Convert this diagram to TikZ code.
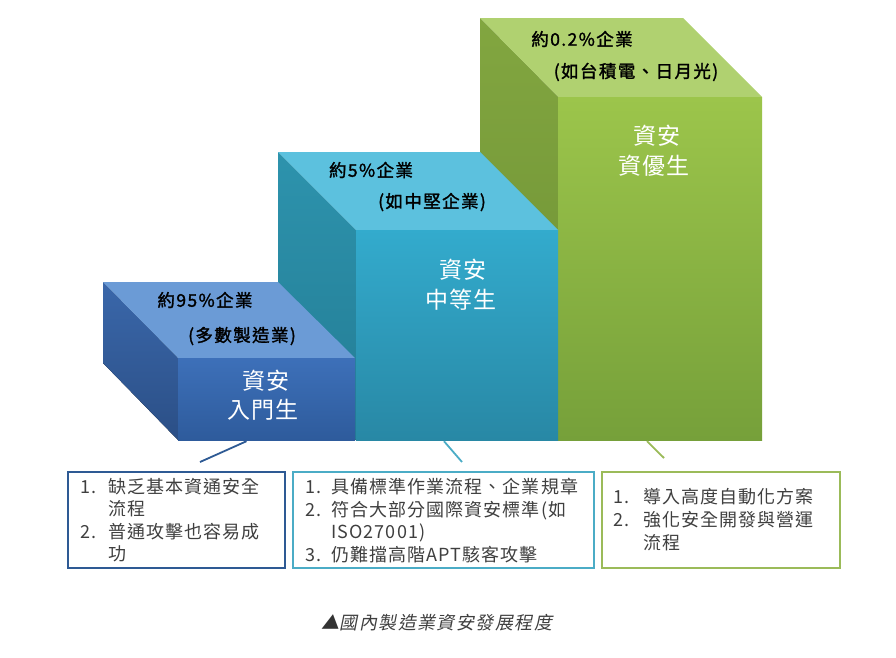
\documentclass[tikz,border=0pt]{standalone}
\usepackage{fontspec}
\setmainfont{Noto Sans CJK TC}
\newfontfamily\cjkb[FakeBold=1.6,LetterSpace=8]{Noto Sans CJK TC}
\newfontfamily\cjkl[LetterSpace=6]{Noto Sans CJK TC}
\newfontfamily\cjkf[LetterSpace=4]{Noto Sans CJK TC}
\newfontfamily\capfont[FakeSlant=0.2,LetterSpace=8]{Noto Sans CJK TC}
\definecolor{bFront1}{HTML}{3D70B9}
\definecolor{bFront2}{HTML}{2E5B9C}
\definecolor{bTop}{HTML}{6B9BD6}
\definecolor{bLeft1}{HTML}{3A67AA}
\definecolor{bLeft2}{HTML}{2B4F86}
\definecolor{tFront1}{HTML}{33ABCD}
\definecolor{tFront2}{HTML}{2888A5}
\definecolor{tTop}{HTML}{5CC1DE}
\definecolor{tLeft1}{HTML}{2D93AD}
\definecolor{tLeft2}{HTML}{237C94}
\definecolor{gFront1}{HTML}{9CC54B}
\definecolor{gFront2}{HTML}{76A03A}
\definecolor{gTop}{HTML}{B0D170}
\definecolor{gLeft1}{HTML}{82A640}
\definecolor{gLeft2}{HTML}{6C8F33}
\definecolor{bLine}{HTML}{2E5A94}
\definecolor{tLine}{HTML}{4BACC6}
\definecolor{gLine}{HTML}{9BBB59}
\definecolor{txt}{HTML}{3F3F3F}
\tikzset{
  toplbl/.style={font=\cjkb\fontsize{17.5}{19}\selectfont, text=black, inner sep=0pt},
  frontlbl/.style={font=\cjkf\fontsize{23}{25}\selectfont, text=white, inner sep=0pt},
  listbox/.style={draw, line width=1.6pt, minimum width=#1, minimum height=96pt, inner sep=0pt},
  itm/.style={font=\cjkl\fontsize{18}{20}\selectfont, text=txt, anchor=base west, inner sep=0pt},
  conn/.style={line width=1.8pt}
}
\begin{document}
\begin{tikzpicture}[x=1pt,y=-1pt]
\useasboundingbox (0,0) rectangle (896,657);
% green box
\fill[top color=gLeft1, bottom color=gLeft2] (480,18) -- (480,362) -- (558,440) -- (558,97) -- cycle;
\fill[gTop] (480,18) -- (683,18) -- (762,97) -- (558,97) -- cycle;
\node[minimum width=204pt, minimum height=343pt, inner sep=0pt, top color=gFront1, bottom color=gFront2] (gf) at (660,268.5) {};
% teal box
\fill[top color=tLeft1, bottom color=tLeft2] (278,152) -- (278,362) -- (356,440) -- (356,230) -- cycle;
\fill[tTop] (278,152) -- (480,152) -- (558,230) -- (356,230) -- cycle;
\node[minimum width=202pt, minimum height=210pt, inner sep=0pt, top color=tFront1, bottom color=tFront2] (tf) at (457,335) {};
% blue box
\fill[top color=bLeft1, bottom color=bLeft2] (103,282) -- (103,363) -- (178,440) -- (178,358) -- cycle;
\fill[bTop] (103,282) -- (278,282) -- (355,358) -- (178,358) -- cycle;
\node[minimum width=177pt, minimum height=82pt, inner sep=0pt, top color=bFront1, bottom color=bFront2] (bf) at (266.5,399) {};
% top labels
\node[toplbl] (bt1) at (205,300) {約95\%企業};
\node[toplbl] (bt2) at (242,336) {(多數製造業)};
\node[toplbl] (tt1) at (371,170) {約5\%企業};
\node[toplbl] (tt2) at (432,202) {(如中堅企業)};
\node[toplbl] (gt1) at (582,39) {約0.2\%企業};
\node[toplbl] (gt2) at (636,72) {(如台積電、日月光)};
% front labels
\node[frontlbl] (bl1) at (266,381) {資安};
\node[frontlbl] (bl2) at (263,410) {入門生};
\node[frontlbl] (tl1) at (463,270) {資安};
\node[frontlbl] (tl2) at (461,300) {中等生};
\node[frontlbl] (gl1) at (657,136) {資安};
\node[frontlbl] (gl2) at (654,166) {資優生};
% list boxes
\node[listbox=217pt, draw=bLine] (b1) at (176.5,520) {};
\node[listbox=301pt, draw=tLine] (b2) at (443.5,520) {};
\node[listbox=238pt, draw=gLine] (b3) at (721,520) {};
% connectors
\coordinate (c1) at (200,462);
\coordinate (c2) at (462,462);
\coordinate (c3) at (664,458);
\draw[conn, bLine] (bf.south) ++(-20,1) coordinate (s1) -- (c1);
\draw[conn, tLine] (tf.south) ++(-13,1) coordinate (s2) -- (c2);
\draw[conn, gLine] (gf.south) ++(-13,1) coordinate (s3) -- (c3);
% list texts
\node[itm] (n11) at (80,493) {1.};
\node[itm] (t11) at (108,493) {缺乏基本資通安全};
\node[itm] (t12) at (108,515) {流程};
\node[itm] (n12) at (80,538) {2.};
\node[itm] (t13) at (108,538) {普通攻擊也容易成};
\node[itm] (t14) at (108,560) {功};
\node[itm] (n21) at (305,493) {1.};
\node[itm] (t21) at (331,493) {具備標準作業流程、企業規章};
\node[itm] (n22) at (305,516) {2.};
\node[itm] (t22) at (331,516) {符合大部分國際資安標準(如};
\node[itm] (t23) at (331,538) {ISO27001)};
\node[itm] (n23) at (305,561) {3.};
\node[itm] (t24) at (331,561) {仍難擋高階APT駭客攻擊};
\node[itm] (n31) at (613,503) {1.};
\node[itm] (t31) at (643,503) {導入高度自動化方案};
\node[itm] (n32) at (613,526) {2.};
\node[itm] (t32) at (643,526) {強化安全開發與營運};
\node[itm] (t33) at (643,549) {流程};
% caption
\node[font=\capfont\fontsize{18}{20}\selectfont, text=txt, inner sep=0pt] (cap) at (437,623) {\textcolor{black!80}{▲}國內製造業資安發展程度};
\end{tikzpicture}
\end{document}
